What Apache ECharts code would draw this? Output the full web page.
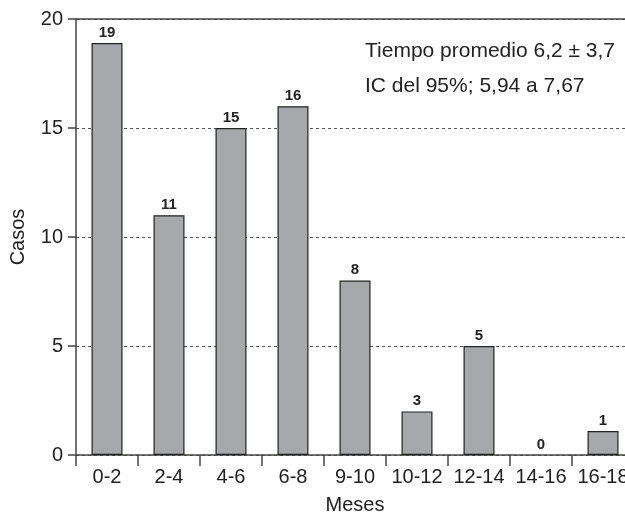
<!DOCTYPE html>
<html>
<head>
<meta charset="utf-8">
<script src="https://cdn.jsdelivr.net/npm/echarts@6/dist/echarts.min.js"></script>
<style>html,body{margin:0;padding:0;background:#fff;}#c{width:625px;height:515px;}</style>
</head>
<body>
<div id="c"></div>
<script>
const categories = ["0-2","2-4","4-6","6-8","9-10","10-12","12-14","14-16","16-18"];
const barHeights = [18.9, 11, 15, 16, 8, 2, 5, 0, 1.1];
const barLabels = ["19","11","15","16","8","3","5","0","1"];
const yTicks = {min: 0, max: 20, interval: 5};
const noteLines = ["Tiempo promedio 6,2 ± 3,7", "IC del 95%; 5,94 a 7,67"];

const chart = echarts.init(document.getElementById('c'), null, {renderer: 'canvas'});
const font = 'Liberation Sans, Arial, Helvetica, sans-serif';
const axisColor = '#444';
chart.setOption({
  animation: false,
  backgroundColor: '#fff',
  grid: {left: 76, top: 19, width: 558, height: 436, outerBoundsMode: 'none', containLabel: false},
  textStyle: {fontFamily: font},
  xAxis: [{
    type: 'category',
    data: categories,
    name: 'Meses',
    nameLocation: 'middle',
    nameGap: 40,
    nameTextStyle: {fontSize: 20, color: '#222', fontFamily: font},
    axisLine: {lineStyle: {color: axisColor, width: 1.5}},
    axisTick: {show: true, length: 11, inside: false, alignWithLabel: false, lineStyle: {color: axisColor, width: 1.5}},
    axisLabel: {fontSize: 20, color: '#222', margin: 12, fontFamily: font, interval: 0},
    splitLine: {show: false}
  }, {
    type: 'category',
    data: categories,
    position: 'top',
    axisLine: {lineStyle: {color: axisColor, width: 1.5}},
    axisTick: {show: false},
    axisLabel: {show: false}
  }],
  yAxis: {
    type: 'value',
    min: yTicks.min, max: yTicks.max, interval: yTicks.interval,
    name: 'Casos',
    nameLocation: 'middle',
    nameGap: 48,
    nameRotate: 90,
    nameTextStyle: {fontSize: 20, color: '#222', fontFamily: font},
    axisLine: {show: true, lineStyle: {color: axisColor, width: 1.5}},
    axisTick: {show: true, length: 8, lineStyle: {color: axisColor, width: 1.5}},
    axisLabel: {fontSize: 20, color: '#222', margin: 13, fontFamily: font},
    splitLine: {show: true, lineStyle: {color: '#555', width: 1, type: [3, 3]}}
  },
  series: [{
    type: 'bar',
    data: barHeights.map(v => v === 0 ? {value: v, itemStyle: {borderWidth: 0}} : v),
    barWidth: '50%',
    itemStyle: {color: '#a7a8ab', borderColor: '#222', borderWidth: 1.2},
    label: {
      show: true, position: 'top', distance: 3,
      formatter: p => barLabels[p.dataIndex],
      fontSize: 15, fontWeight: 'bold', color: '#222', fontFamily: font
    }
  }],
  graphic: noteLines.map((t, i) => ({
    type: 'text',
    left: 365,
    top: 41 + i * 35,
    style: {text: t, fontSize: 21, fill: '#222', fontFamily: font}
  }))
});
</script>
</body>
</html>
